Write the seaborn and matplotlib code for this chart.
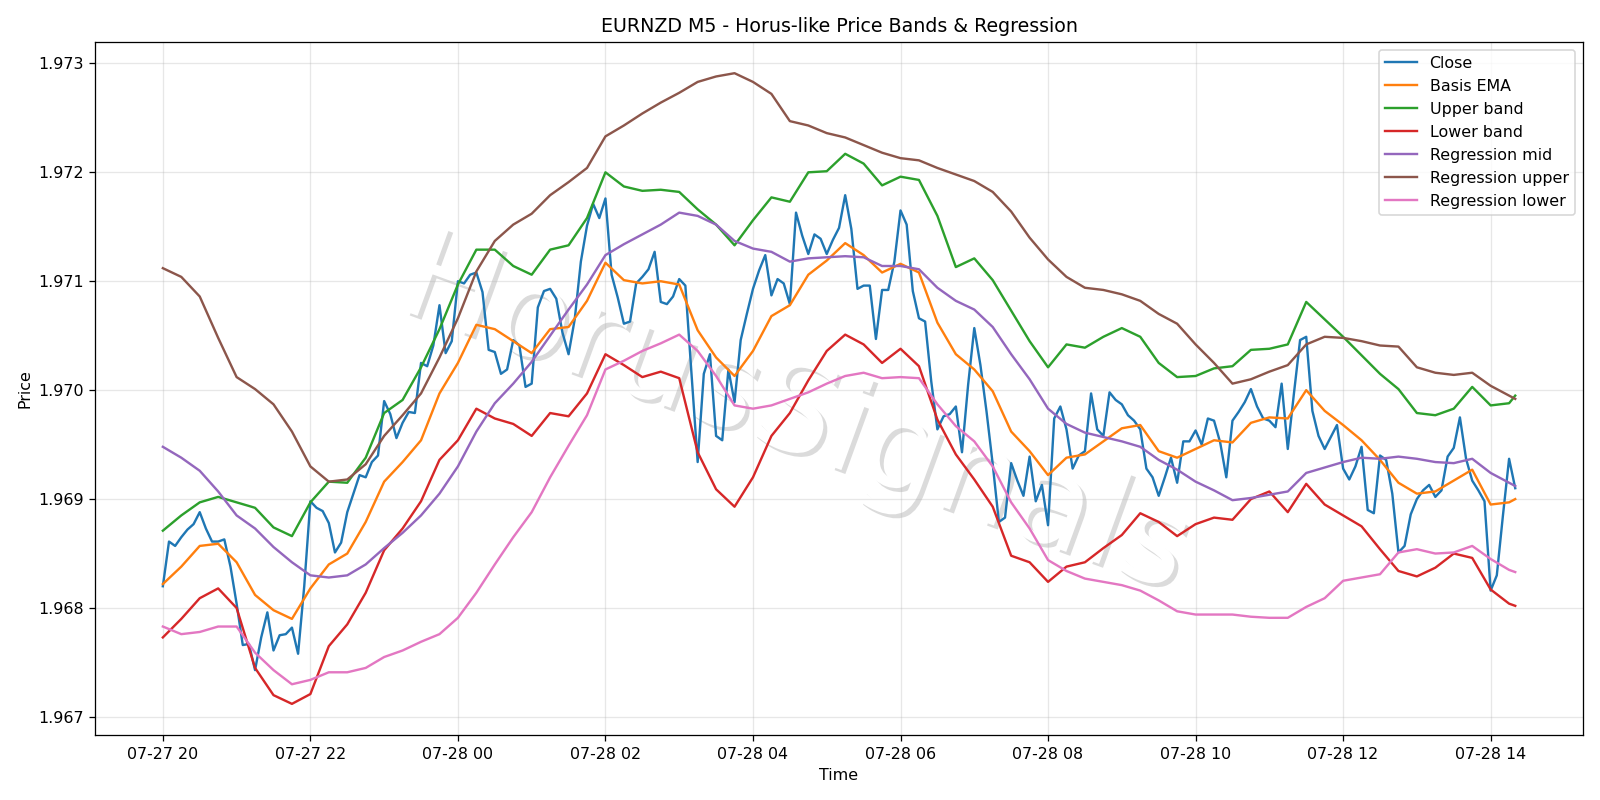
import numpy as np
import pandas as pd
import matplotlib
matplotlib.use("Agg")
import matplotlib.pyplot as plt
import matplotlib.dates as mdates
import matplotlib.patheffects as pe
import seaborn as sns

# 5-minute bars from 07-27 20:00 to 07-28 14:20
times = pd.date_range("2025-07-27 20:00", periods=221, freq="5min")

close = [
    1.96820, 1.96861, 1.96857, 1.96865, 1.96872, 1.96877, 1.96888, 1.96873, 1.96861, 1.96861,
    1.96863, 1.96838, 1.96804, 1.96766, 1.96767, 1.96743, 1.96773, 1.96796, 1.96761, 1.96775,
    1.96776, 1.96782, 1.96758, 1.96820, 1.96898, 1.96892, 1.96889, 1.96878, 1.96851, 1.96860,
    1.96888, 1.96905, 1.96922, 1.96920, 1.96934, 1.96940, 1.96990, 1.96978, 1.96956, 1.96970,
    1.96980, 1.96979, 1.97025, 1.97022, 1.97041, 1.97078, 1.97034, 1.97045, 1.97100, 1.97098,
    1.97106, 1.97108, 1.97090, 1.97037, 1.97035, 1.97015, 1.97019, 1.97046, 1.97041, 1.97003,
    1.97006, 1.97076, 1.97091, 1.97093, 1.97084, 1.97053, 1.97033, 1.97065, 1.97118, 1.97151,
    1.97171, 1.97158, 1.97176, 1.97106, 1.97085, 1.97061, 1.97063, 1.97098, 1.97104, 1.97111,
    1.97127, 1.97081, 1.97079, 1.97086, 1.97102, 1.97096, 1.97015, 1.96934, 1.97015, 1.97033,
    1.96958, 1.96954, 1.97019, 1.96989, 1.97046, 1.97070, 1.97093, 1.97110, 1.97124, 1.97087,
    1.97102, 1.97098, 1.97079, 1.97163, 1.97142, 1.97125, 1.97143, 1.97139, 1.97125, 1.97138,
    1.97149, 1.97179, 1.97148, 1.97093, 1.97096, 1.97096, 1.97047, 1.97092, 1.97092, 1.97118,
    1.97165, 1.97152, 1.97091, 1.97066, 1.97063, 1.97008, 1.96964, 1.96976, 1.96978, 1.96985,
    1.96943, 1.97005, 1.97057, 1.97023, 1.96980, 1.96932, 1.96879, 1.96883, 1.96933, 1.96917,
    1.96903, 1.96939, 1.96898, 1.96913, 1.96876, 1.96974, 1.96985, 1.96964, 1.96928, 1.96940,
    1.96944, 1.96997, 1.96964, 1.96958, 1.96998, 1.96991, 1.96987, 1.96977, 1.96972, 1.96964,
    1.96928, 1.96920, 1.96903, 1.96920, 1.96938, 1.96915, 1.96953, 1.96953, 1.96963, 1.96950,
    1.96974, 1.96972, 1.96952, 1.96920, 1.96972, 1.96980, 1.96989, 1.97001, 1.96985, 1.96974,
    1.96972, 1.96966, 1.97006, 1.96946, 1.96997, 1.97046, 1.97049, 1.96981, 1.96958, 1.96946,
    1.96957, 1.96968, 1.96928, 1.96918, 1.96930, 1.96948, 1.96890, 1.96887, 1.96940, 1.96936,
    1.96905, 1.96851, 1.96857, 1.96886, 1.96900, 1.96908, 1.96913, 1.96902, 1.96908, 1.96939,
    1.96947, 1.96975, 1.96937, 1.96917, 1.96908, 1.96898, 1.96816, 1.96830, 1.96885, 1.96937,
    1.96910,
]

# indicator lines read every third bar (plus the last bar)
band_bars = np.r_[0:220:3, 220]

basis = [
    1.96822, 1.96838, 1.96857, 1.96859, 1.96842, 1.96812, 1.96798, 1.96790, 1.96818, 1.96840,
    1.96850, 1.96879, 1.96916, 1.96934, 1.96954, 1.96997, 1.97025, 1.97060, 1.97056, 1.97045,
    1.97034, 1.97056, 1.97058, 1.97082, 1.97117, 1.97101, 1.97098, 1.97100, 1.97097, 1.97055,
    1.97030, 1.97013, 1.97036, 1.97068, 1.97078, 1.97106, 1.97119, 1.97135, 1.97124, 1.97108,
    1.97116, 1.97108, 1.97062, 1.97033, 1.97019, 1.96999, 1.96962, 1.96944, 1.96922, 1.96938,
    1.96941, 1.96953, 1.96965, 1.96968, 1.96944, 1.96938, 1.96946, 1.96954, 1.96952, 1.96970,
    1.96975, 1.96974, 1.97000, 1.96981, 1.96968, 1.96954, 1.96936, 1.96915, 1.96905, 1.96907,
    1.96917, 1.96927, 1.96895, 1.96897, 1.96900,
]
upper_band = [
    1.96871, 1.96885, 1.96897, 1.96902, 1.96897, 1.96892, 1.96874, 1.96866, 1.96897, 1.96916,
    1.96915, 1.96938, 1.96979, 1.96991, 1.97021, 1.97056, 1.97097, 1.97129, 1.97129, 1.97114,
    1.97106, 1.97129, 1.97133, 1.97158, 1.97200, 1.97187, 1.97183, 1.97184, 1.97182, 1.97166,
    1.97152, 1.97133, 1.97156, 1.97177, 1.97173, 1.97200, 1.97201, 1.97217, 1.97208, 1.97188,
    1.97196, 1.97193, 1.97160, 1.97113, 1.97121, 1.97101, 1.97073, 1.97045, 1.97021, 1.97042,
    1.97039, 1.97049, 1.97057, 1.97049, 1.97025, 1.97012, 1.97013, 1.97020, 1.97022, 1.97037,
    1.97038, 1.97042, 1.97081, 1.97065, 1.97049, 1.97032, 1.97015, 1.97001, 1.96979, 1.96977,
    1.96983, 1.97003, 1.96986, 1.96988, 1.96995,
]
lower_band = [
    1.96773, 1.96790, 1.96809, 1.96818, 1.96800, 1.96745, 1.96720, 1.96712, 1.96721, 1.96765,
    1.96785, 1.96814, 1.96853, 1.96873, 1.96898, 1.96936, 1.96954, 1.96983, 1.96974, 1.96969,
    1.96958, 1.96979, 1.96976, 1.96997, 1.97033, 1.97023, 1.97012, 1.97017, 1.97011, 1.96943,
    1.96909, 1.96893, 1.96920, 1.96958, 1.96979, 1.97009, 1.97036, 1.97051, 1.97042, 1.97025,
    1.97038, 1.97022, 1.96973, 1.96941, 1.96918, 1.96893, 1.96848, 1.96842, 1.96824, 1.96838,
    1.96842, 1.96855, 1.96867, 1.96887, 1.96879, 1.96866, 1.96877, 1.96883, 1.96881, 1.96900,
    1.96907, 1.96888, 1.96914, 1.96895, 1.96885, 1.96875, 1.96854, 1.96834, 1.96829, 1.96837,
    1.96850, 1.96846, 1.96817, 1.96804, 1.96802,
]
reg_mid = [
    1.96948, 1.96938, 1.96926, 1.96907, 1.96885, 1.96873, 1.96856, 1.96842, 1.96830, 1.96828,
    1.96830, 1.96840, 1.96855, 1.96869, 1.96885, 1.96905, 1.96930, 1.96962, 1.96988, 1.97006,
    1.97026, 1.97050, 1.97074, 1.97097, 1.97124, 1.97134, 1.97143, 1.97152, 1.97163, 1.97160,
    1.97152, 1.97137, 1.97130, 1.97127, 1.97118, 1.97121, 1.97122, 1.97123, 1.97122, 1.97114,
    1.97114, 1.97111, 1.97094, 1.97082, 1.97074, 1.97058, 1.97033, 1.97010, 1.96983, 1.96969,
    1.96961, 1.96957, 1.96953, 1.96948, 1.96936, 1.96927, 1.96916, 1.96908, 1.96899, 1.96901,
    1.96904, 1.96907, 1.96924, 1.96929, 1.96934, 1.96938, 1.96937, 1.96939, 1.96937, 1.96934,
    1.96933, 1.96937, 1.96924, 1.96915, 1.96912,
]
reg_upper = [
    1.97112, 1.97104, 1.97086, 1.97048, 1.97012, 1.97001, 1.96987, 1.96962, 1.96930, 1.96916,
    1.96918, 1.96932, 1.96958, 1.96977, 1.96997, 1.97030, 1.97066, 1.97109, 1.97137, 1.97152,
    1.97162, 1.97179, 1.97191, 1.97204, 1.97233, 1.97243, 1.97254, 1.97264, 1.97273, 1.97283,
    1.97288, 1.97291, 1.97283, 1.97272, 1.97247, 1.97243, 1.97236, 1.97232, 1.97225, 1.97218,
    1.97213, 1.97211, 1.97204, 1.97198, 1.97192, 1.97182, 1.97164, 1.97140, 1.97120, 1.97104,
    1.97094, 1.97092, 1.97088, 1.97082, 1.97070, 1.97061, 1.97042, 1.97025, 1.97006, 1.97010,
    1.97017, 1.97023, 1.97042, 1.97049, 1.97048, 1.97045, 1.97041, 1.97040, 1.97021, 1.97016,
    1.97014, 1.97016, 1.97004, 1.96995, 1.96992,
]
reg_lower = [
    1.96783, 1.96776, 1.96778, 1.96783, 1.96783, 1.96759, 1.96743, 1.96730, 1.96734, 1.96741,
    1.96741, 1.96745, 1.96755, 1.96761, 1.96769, 1.96776, 1.96791, 1.96814, 1.96840, 1.96865,
    1.96888, 1.96920, 1.96949, 1.96977, 1.97019, 1.97027, 1.97036, 1.97043, 1.97051, 1.97036,
    1.97013, 1.96986, 1.96983, 1.96986, 1.96992, 1.96998, 1.97006, 1.97013, 1.97016, 1.97011,
    1.97012, 1.97011, 1.96987, 1.96967, 1.96953, 1.96930, 1.96897, 1.96873, 1.96844, 1.96834,
    1.96827, 1.96824, 1.96821, 1.96816, 1.96807, 1.96797, 1.96794, 1.96794, 1.96794, 1.96792,
    1.96791, 1.96791, 1.96801, 1.96809, 1.96825, 1.96828, 1.96831, 1.96851, 1.96854, 1.96850,
    1.96851, 1.96857, 1.96845, 1.96835, 1.96833,
]

band_times = times[band_bars]

fig, ax = plt.subplots(figsize=(14, 7), dpi=800 / 7)

# faint watermark behind the lines
ax.text(0.497, 0.48, "HorusSignals", transform=fig.transFigure, fontsize=80,
        color="white", rotation=-20, ha="center", va="center", zorder=0,
        path_effects=[pe.withSimplePatchShadow(offset=(2.5, -2.5), shadow_rgbFace="0.6", alpha=0.35)])

sns.lineplot(x=times, y=close, ax=ax, label="Close", color="C0")
sns.lineplot(x=band_times, y=basis, ax=ax, label="Basis EMA", color="C1")
sns.lineplot(x=band_times, y=upper_band, ax=ax, label="Upper band", color="C2")
sns.lineplot(x=band_times, y=lower_band, ax=ax, label="Lower band", color="C3")
sns.lineplot(x=band_times, y=reg_mid, ax=ax, label="Regression mid", color="C4")
sns.lineplot(x=band_times, y=reg_upper, ax=ax, label="Regression upper", color="C5")
sns.lineplot(x=band_times, y=reg_lower, ax=ax, label="Regression lower", color="C6")

ax.set_title("EURNZD M5 - Horus-like Price Bands & Regression")
ax.set_xlabel("Time")
ax.set_ylabel("Price")
ax.xaxis.set_major_locator(mdates.HourLocator(interval=2))
ax.xaxis.set_major_formatter(mdates.DateFormatter("%m-%d %H"))
ax.grid(True, alpha=0.3)
ax.legend(loc="upper right")

plt.tight_layout()
plt.savefig("out.png", dpi=800 / 7)
plt.close()
